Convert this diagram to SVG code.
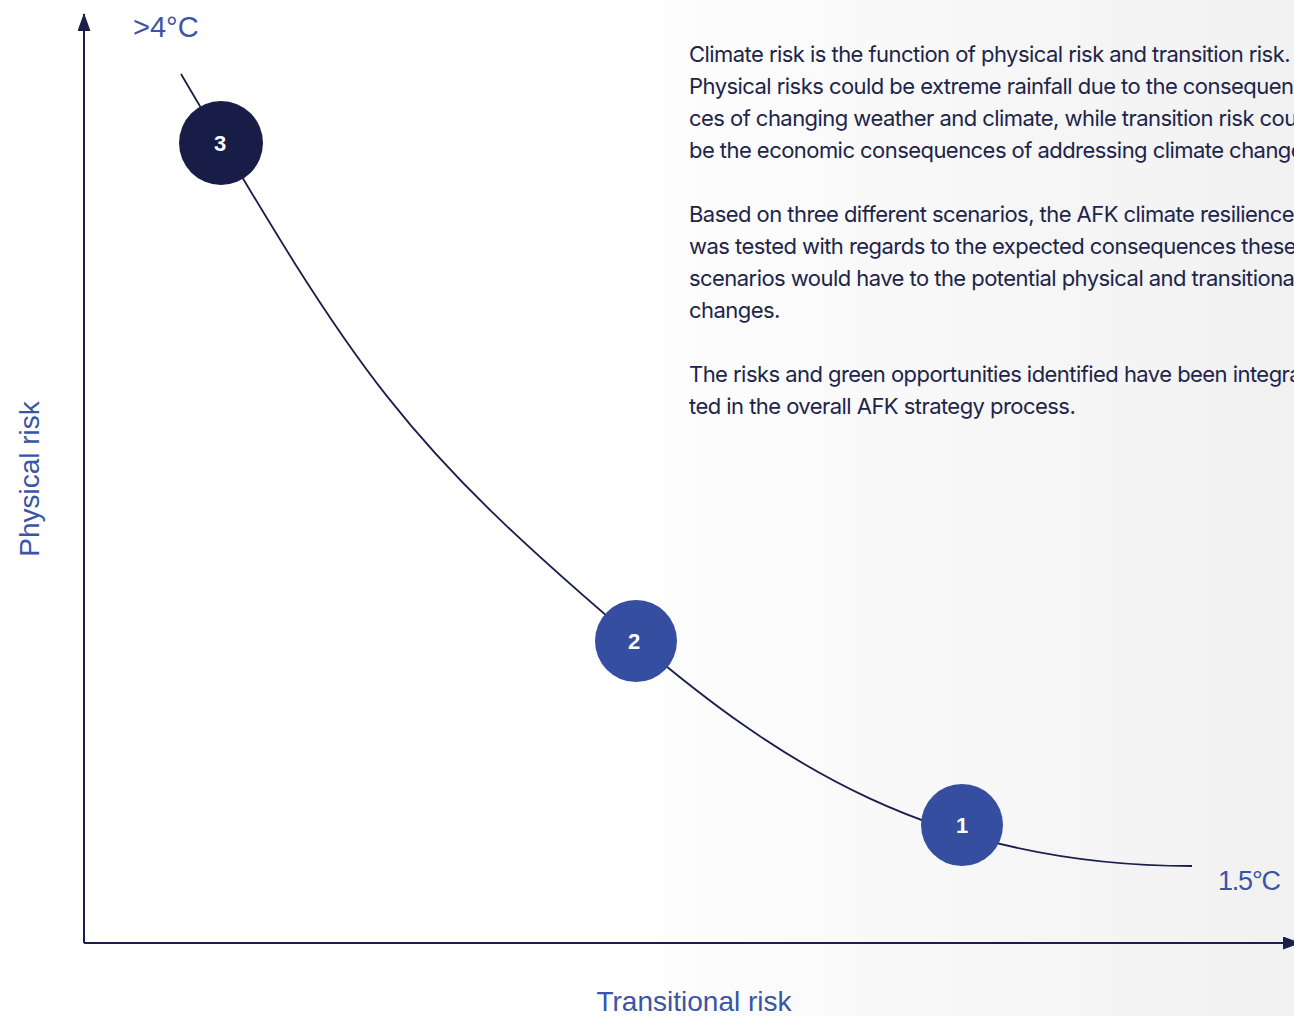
<svg xmlns="http://www.w3.org/2000/svg" width="1294" height="1016" viewBox="0 0 1294 1016">
  <defs>
    <linearGradient id="bg" x1="0" y1="0" x2="1294" y2="0" gradientUnits="userSpaceOnUse">
      <stop offset="0.45" stop-color="#ffffff"/>
      <stop offset="1" stop-color="#f1f1f2"/>
    </linearGradient>
    <marker id="arrow" viewBox="0 0 18 13" refX="17" refY="6.5" markerWidth="18" markerHeight="13" orient="auto" markerUnits="userSpaceOnUse">
      <path d="M0,0 L18,6.5 L0,13 Z" fill="#1a1f4b"/>
    </marker>
    <style>
      .axis { stroke: #1a1f4b; stroke-width: 2; fill: none; }
      .curve { stroke: #1a1f4b; stroke-width: 1.8; fill: none; }
      .label { font-family: "Liberation Sans", Arial, sans-serif; fill: #3a55a8; }
      .body { font-family: Inter, "Liberation Sans", Arial, sans-serif; font-size: 22px; fill: #20244a; letter-spacing: -0.55px; }
      .num { font-family: "Liberation Sans", Arial, sans-serif; font-size: 22px; font-weight: bold; fill: #ffffff; text-anchor: middle; }
    </style>
  </defs>

  <rect x="0" y="0" width="1294" height="1016" fill="url(#bg)"/>

  <!-- axes and scenario curve -->
  <g id="connectors">
    <line class="axis" x1="84" y1="943" x2="84" y2="14" marker-end="url(#arrow)"/>
    <line class="axis" x1="84" y1="943" x2="1300" y2="943" marker-end="url(#arrow)"/>
    <path class="curve" d="M181,74 C361,380 400,440 636,641 C776,760 932,866 1192,866"/>
  </g>

  <!-- axis labels -->
  <text class="label" x="133" y="37" font-size="29">&gt;4°C</text>
  <text class="label" x="1218" y="890" font-size="27" letter-spacing="-1.2">1.5°C</text>
  <text class="label" x="0" y="0" font-size="28" text-anchor="middle" transform="translate(39,479) rotate(-90)">Physical risk</text>
  <text class="label" x="694" y="1011" font-size="28" text-anchor="middle">Transitional risk</text>

  <!-- scenario nodes -->
  <g id="node-3">
    <circle cx="221" cy="143" r="42" fill="#181d48"/>
    <text class="num" x="220" y="151">3</text>
  </g>
  <g id="node-2">
    <circle cx="636" cy="641" r="41" fill="#354ea0"/>
    <text class="num" x="634" y="649">2</text>
  </g>
  <g id="node-1">
    <circle cx="962" cy="825" r="41" fill="#354ea0"/>
    <text class="num" x="962" y="833">1</text>
  </g>

  <!-- explanatory text -->
  <g id="description">
    <text class="body" x="689" y="62">Climate risk is the function of physical risk and transition risk.</text>
    <text class="body" x="689" y="94">Physical risks could be extreme rainfall due to the consequen-</text>
    <text class="body" x="689" y="126">ces of changing weather and climate, while transition risk could</text>
    <text class="body" x="689" y="158">be the economic consequences of addressing climate change.</text>
    <text class="body" x="689" y="222">Based on three different scenarios, the AFK climate resilience</text>
    <text class="body" x="689" y="254">was tested with regards to the expected consequences these</text>
    <text class="body" x="689" y="286">scenarios would have to the potential physical and transitional</text>
    <text class="body" x="689" y="318">changes.</text>
    <text class="body" x="689" y="382">The risks and green opportunities identified have been integra-</text>
    <text class="body" x="689" y="414">ted in the overall AFK strategy process.</text>
  </g>
</svg>
